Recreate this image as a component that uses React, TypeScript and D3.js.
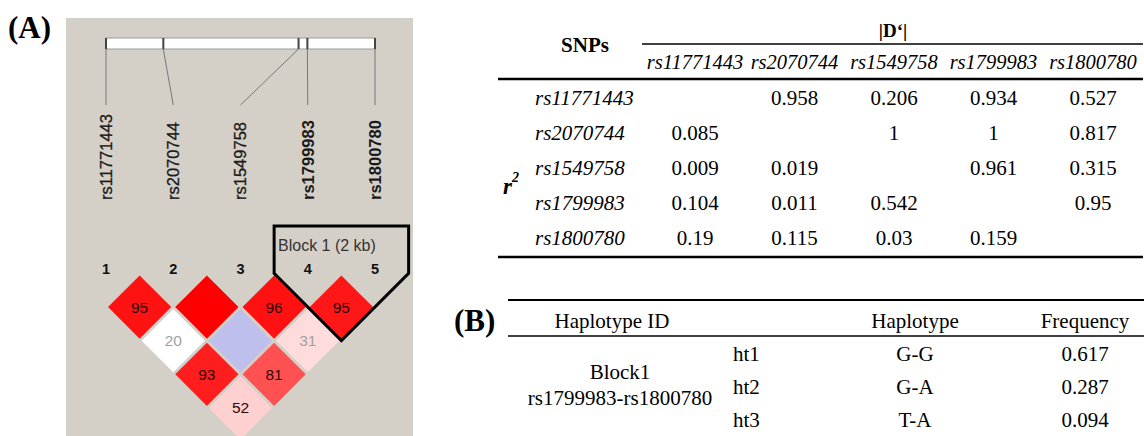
import React from "react";
import * as d3 from "d3";

// SNPs in order along the gene
const snps = ["rs11771443", "rs2070744", "rs1549758", "rs1799983", "rs1800780"];
// approx physical position along the gene bar (kb)
const snpPosKb = [0, 1.95, 6.55, 6.85, 9.15];
const boldSnps = ["rs1799983", "rs1800780"];
const blockMembers = [3, 4];
const blockLabel = "Block 1 (2 kb)";

// |D'| (upper triangle) and r2 (lower triangle)
const dPrime = [
  [null, 0.958, 0.206, 0.934, 0.527],
  [null, null, 1, 1, 0.817],
  [null, null, null, 0.961, 0.315],
  [null, null, null, null, 0.95],
  [null, null, null, null, null],
];
const r2 = [
  [null, null, null, null, null],
  [0.085, null, null, null, null],
  [0.009, 0.019, null, null, null],
  [0.104, 0.011, 0.542, null, null],
  [0.19, 0.115, 0.03, 0.159, null],
];
// pairs with weak evidence (LOD < 2) in the LD plot
const lowLodPairs = ["0-2", "1-3"];

// haplotype table
const hapBlock = "Block1";
const hapBlockSnps = "rs1799983-rs1800780";
const hapIds = ["ht1", "ht2", "ht3"];
const hapAlleles = ["G-G", "G-A", "T-A"];
const hapFreqs = [0.617, 0.287, 0.094];

const W = 1144;
const H = 436;
const sans = "'Liberation Sans', Arial, sans-serif";
const serif = "'Liberation Serif', 'Times New Roman', serif";

const LDPlot = () => {
  const n = snps.length;
  const markerX = d3.scalePoint<number>().domain(d3.range(n)).range([106, 375]);
  const physX = d3.scaleLinear().domain([0, d3.max(snpPosKb) as number]).range([106, 375]);
  const half = markerX.step() / 2;
  const y0 = 307;
  const rowY = (d: number) => y0 + (d - 1) * half;
  const red = d3.scaleLinear<string>().domain([0.5, 1]).range(["#ffdcdc", "#ff0000"]).clamp(true);

  const pairs: { i: number; j: number; d: number; r: number }[] = [];
  for (let i = 0; i < n; i++)
    for (let j = i + 1; j < n; j++) pairs.push({ i, j, d: dPrime[i][j] as number, r: r2[j][i] as number });

  const cellColor = (p: { i: number; j: number; d: number }) => {
    const low = lowLodPairs.includes(`${p.i}-${p.j}`);
    if (low) return p.d >= 1 ? "#bfbfee" : "#ffffff";
    return red(p.d);
  };

  const ins = 2;
  const diamond = (cx: number, cy: number) => {
    const h = half - ins;
    return `M${cx},${cy - h}L${cx + h},${cy}L${cx},${cy + h}L${cx - h},${cy}Z`;
  };

  const b0 = blockMembers[0];
  const b1 = blockMembers[blockMembers.length - 1];
  const top = 226;
  const blockPts: [number, number][] = [
    [markerX(b0)! - half, top],
    [markerX(b1)! + half, top],
    [markerX(b1)! + half, y0 - half],
    [(markerX(b0)! + markerX(b1)!) / 2, rowY(b1 - b0) + half],
    [markerX(b0)! - half, y0 - half],
  ];
  const outline = d3.line()(blockPts) + "Z";

  return (
    <g>
      <rect x={66} y={18} width={347} height={H - 18} fill="#d4d0c8" />
      {/* gene bar */}
      <rect x={106} y={38} width={269} height={11} fill="#ffffff" stroke="#9a9a9a" strokeWidth={1} />
      {snpPosKb.map((p, k) => (
        <g key={k}>
          <line x1={physX(p)} x2={physX(p)} y1={38} y2={49} stroke="#444" strokeWidth={2} />
          <line x1={physX(p)} y1={49} x2={markerX(k)} y2={105} stroke="#777" strokeWidth={1} />
        </g>
      ))}
      {snps.map((s, k) => (
        <text
          key={s}
          transform={`translate(${markerX(k)},200) rotate(-90)`}
          dy="0.36em"
          fontFamily={sans}
          fontSize={16.5}
          fontWeight={boldSnps.includes(s) ? "bold" : "normal"}
          fill="#1a1a1a"
          stroke="#1a1a1a"
          strokeWidth={boldSnps.includes(s) ? 0 : 0.3}
        >
          {s}
        </text>
      ))}
      {snps.map((s, k) => (
        <text key={s} x={markerX(k)} y={274} textAnchor="middle" fontFamily={sans} fontSize={14.5} fontWeight="bold" fill="#111">
          {k + 1}
        </text>
      ))}
      {pairs.map((p) => {
        const cx = (markerX(p.i)! + markerX(p.j)!) / 2;
        const cy = rowY(p.j - p.i);
        const v = Math.floor(p.d * 100);
        return (
          <g key={`${p.i}-${p.j}`}>
            <path d={diamond(cx, cy)} fill={cellColor(p)} />
            {v < 100 && (
              <text x={cx} y={cy} dy="0.36em" textAnchor="middle" fontFamily={sans} fontSize={15.5} fill={p.r < 0.05 ? "#a0a0a0" : "#2a0a0a"}>
                {v}
              </text>
            )}
          </g>
        );
      })}
      <path d={outline} fill="none" stroke="#000" strokeWidth={3} strokeLinejoin="miter" />
      <text x={278} y={251} fontFamily={sans} fontSize={16} fill="#333">
        {blockLabel}
      </text>
    </g>
  );
};

const LDTable = () => {
  const colX = d3.scalePoint<string>().domain(snps).range([695, 1093]);
  const rowY = d3.scalePoint<string>().domain(snps).range([98, 238]);
  const fs = 21;
  return (
    <g fontFamily={serif} fill="#000">
      <text x={585} y={45} textAnchor="middle" dominantBaseline="central" fontSize={21} fontWeight="bold">
        SNPs
      </text>
      <text x={893} y={30} textAnchor="middle" dominantBaseline="central" fontSize={19} fontWeight="bold">
        |D‘|
      </text>
      <line x1={642} x2={1143} y1={44} y2={44} stroke="#000" strokeWidth={1.5} />
      {snps.map((s) => (
        <text key={s} x={colX(s)} y={62} textAnchor="middle" dominantBaseline="central" fontSize={20.5} fontStyle="italic">
          {s}
        </text>
      ))}
      <line x1={498} x2={1143} y1={79} y2={79} stroke="#000" strokeWidth={2.5} />
      <text x={503} y={186} dominantBaseline="central" fontSize={23} fontWeight="bold" fontStyle="italic">
        r<tspan fontSize={14} dy={-9}>2</tspan>
      </text>
      {snps.map((s, i) => (
        <g key={s}>
          <text x={535} y={rowY(s)} dominantBaseline="central" fontSize={fs} fontStyle="italic">
            {s}
          </text>
          {snps.map((c, j) => {
            const v = j > i ? dPrime[i][j] : j < i ? r2[i][j] : null;
            if (v === null) return null;
            return (
              <text key={c} x={colX(c)} y={rowY(s)} textAnchor="middle" dominantBaseline="central" fontSize={fs}>
                {String(v)}
              </text>
            );
          })}
        </g>
      ))}
      <line x1={498} x2={1143} y1={257} y2={257} stroke="#000" strokeWidth={2.5} />
    </g>
  );
};

const HapTable = () => {
  const rowY = d3.scalePoint<string>().domain(hapIds).range([354, 420]);
  const fs = 21;
  return (
    <g fontFamily={serif} fill="#000" fontSize={fs}>
      <line x1={508} x2={1144} y1={300} y2={300} stroke="#000" strokeWidth={2} />
      <text x={612} y={321} textAnchor="middle" dominantBaseline="central">Haplotype ID</text>
      <text x={915} y={321} textAnchor="middle" dominantBaseline="central">Haplotype</text>
      <text x={1085} y={321} textAnchor="middle" dominantBaseline="central">Frequency</text>
      <line x1={508} x2={1144} y1={336} y2={336} stroke="#000" strokeWidth={1.5} />
      <text x={620} y={372} textAnchor="middle" dominantBaseline="central">{hapBlock}</text>
      <text x={620} y={398} textAnchor="middle" dominantBaseline="central">{hapBlockSnps}</text>
      {hapIds.map((id, k) => (
        <g key={id}>
          <text x={733} y={rowY(id)} dominantBaseline="central">{id}</text>
          <text x={915} y={rowY(id)} textAnchor="middle" dominantBaseline="central">{hapAlleles[k]}</text>
          <text x={1085} y={rowY(id)} textAnchor="middle" dominantBaseline="central">{hapFreqs[k].toFixed(3)}</text>
        </g>
      ))}
    </g>
  );
};

export default function App() {
  return (
    <svg width={W} height={H} style={{ position: "absolute", left: 0, top: 0, background: "#fff" }}>
      <text x={8} y={38} fontFamily={serif} fontSize={31} fontWeight="bold">(A)</text>
      <text x={454} y={331} fontFamily={serif} fontSize={31} fontWeight="bold">(B)</text>
      <LDPlot />
      <LDTable />
      <HapTable />
    </svg>
  );
}
